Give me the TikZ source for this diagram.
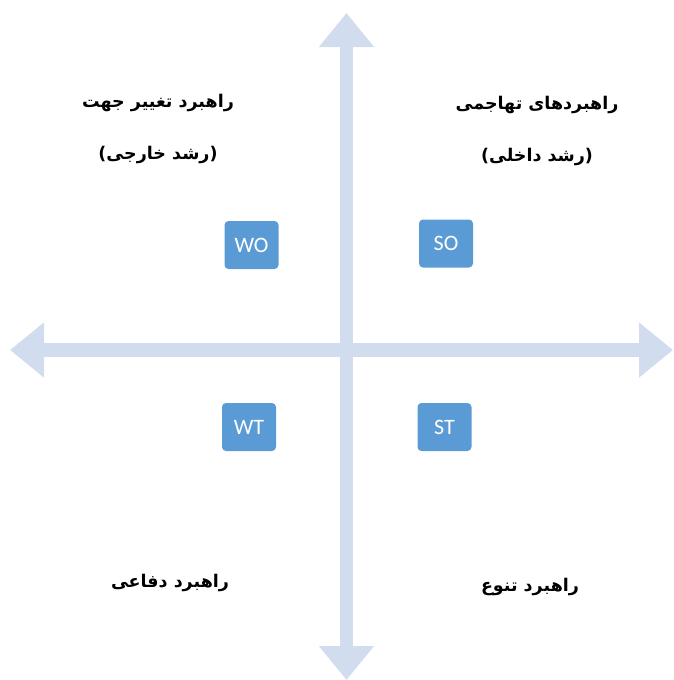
\documentclass[tikz,border=0pt]{standalone}
\usepackage{fontspec}
\usepackage{tikz}
\usetikzlibrary{arrows.meta, positioning}
\TeXXeTstate=1
\setsansfont{Carlito}
\newfontfamily\arabicfont[Script=Arabic]{DejaVu Sans}
\definecolor{axiscolor}{RGB}{209,220,238}
\definecolor{boxcolor}{RGB}{91,155,213}

\begin{document}
\begin{tikzpicture}[
    x=1pt, y=-1pt,
    axis/.style={line width=13.5pt, draw=axiscolor, {Triangle[width=53pt, length=34pt]}-{Triangle[width=53pt, length=34pt]}},
    swot/.style={fill=boxcolor, draw=none, text=white, rounded corners=4pt, minimum width=54pt, minimum height=48pt, inner sep=0pt, font=\sffamily\fontsize{22}{26}\selectfont},
    strategy/.style={font=\arabicfont\bfseries\fontsize{17.5}{21}\selectfont, inner sep=1pt}
]
    \useasboundingbox (0,0) rectangle (673,680);

    % Axes
    \coordinate (top) at (346.5,13);
    \coordinate (bottom) at (346.5,680);
    \coordinate (left) at (10,350);
    \coordinate (right) at (673,350);
    \draw[axis] (bottom) -- (top);
    \draw[axis] (left) -- (right);

    % SWOT boxes
    \node[swot] (wo) at (251.5,245) {WO};
    \node[swot] (so) at (446,243.5) {SO};
    \node[swot] (wt) at (249,427) {WT};
    \node[swot] (st) at (444.5,427) {ST};

    % Strategy labels
    \node[strategy] (woname) at (158,103) {\beginR راهبرد تغییر جهت\endR};
    \node[strategy] (wogrowth) at (158,155) {\beginR (رشد خارجی)\endR};
    \node[strategy] (soname) at (537,105) {\beginR راهبردهای تهاجمی\endR};
    \node[strategy] (sogrowth) at (537,157) {\beginR (رشد داخلی)\endR};
    \node[strategy] (wtname) at (170,583) {\beginR راهبرد دفاعی\endR};
    \node[strategy] (stname) at (530,587) {\beginR راهبرد تنوع\endR};
\end{tikzpicture}
\end{document}
